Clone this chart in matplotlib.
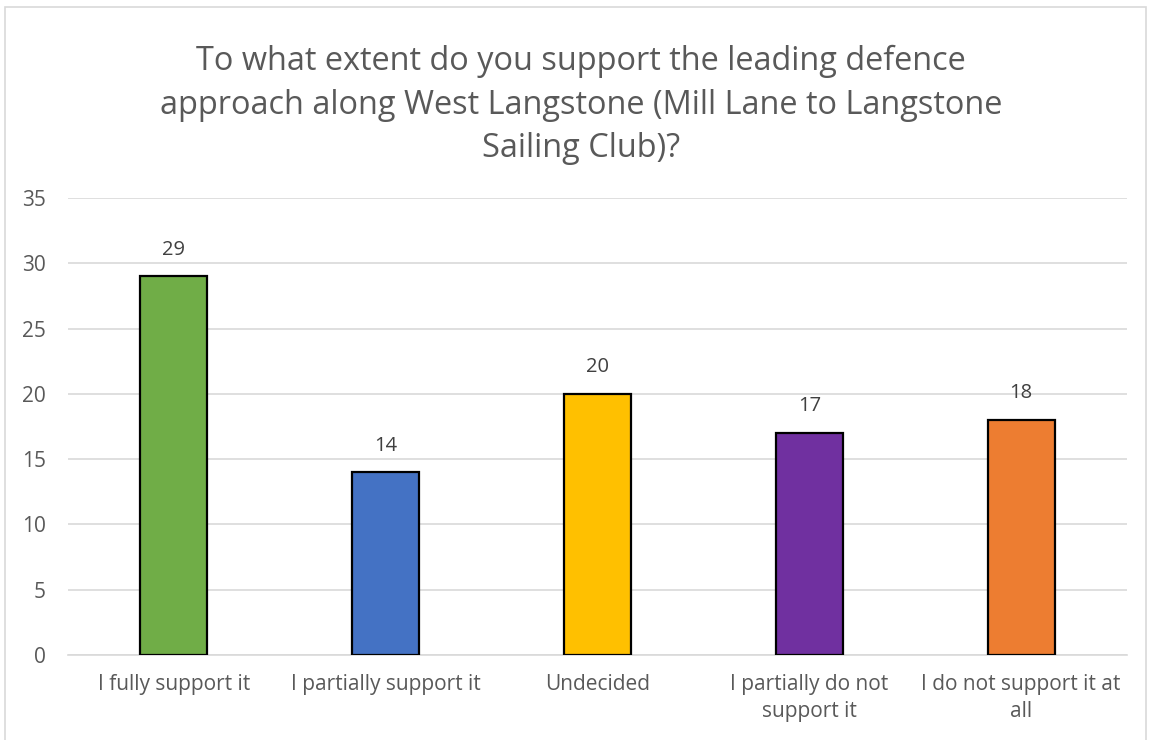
import matplotlib
matplotlib.use("Agg")
import matplotlib.pyplot as plt
from matplotlib.patches import Rectangle

categories = ["I fully support it", "I partially support it", "Undecided",
              "I partially do not\nsupport it", "I do not support it at\nall"]
counts = [29, 14, 20, 17, 18]
colors = ["#70AD47", "#4472C4", "#FFC000", "#7030A0", "#ED7D31"]
yticks = [0, 5, 10, 15, 20, 25, 30, 35]
title = ("To what extent do you support the leading defence\n"
         "approach along West Langstone (Mill Lane to Langstone\n"
         "Sailing Club)?")

plt.rcParams["font.family"] = ["Open Sans", "DejaVu Sans"]

fig = plt.figure(figsize=(11.5, 7.4), dpi=100)
fig.patch.set_facecolor("white")

# chart frame
fig.add_artist(Rectangle((5 / 1150, -0.01), 1141 / 1150, (740 - 7) / 740 + 0.01,
                         transform=fig.transFigure, fill=False,
                         edgecolor="#D9D9D9", linewidth=1.2))

ax = fig.add_axes([68 / 1150, 85 / 740, 1059 / 1150, 457 / 740])
x = list(range(len(categories)))
ax.bar(x, counts, width=0.316, color=colors, edgecolor="black", linewidth=1.6, zorder=3)

for xi, v in zip(x, counts):
    ax.annotate(str(v), (xi, v), xytext=(0, 12), textcoords="offset points",
                ha="center", va="bottom", fontsize=14.5, color="#404040")

ax.set_xlim(-0.5, len(categories) - 0.5)
ax.set_ylim(0, 35)
ax.set_yticks(yticks)
ax.yaxis.grid(True, color="#D9D9D9", linewidth=1.2, zorder=0)
ax.set_axisbelow(True)
for s in ["top", "right", "left"]:
    ax.spines[s].set_visible(False)
ax.spines["bottom"].set_color("#D9D9D9")
ax.spines["bottom"].set_linewidth(1.2)
ax.tick_params(axis="both", length=0, labelsize=15, labelcolor="#595959")
ax.tick_params(axis="y", pad=16)
ax.tick_params(axis="x", pad=14)
ax.set_xticks(x)
ax.set_xticklabels(categories, linespacing=1.35)

fig.text(0.505, 1 - 105 / 740, title, ha="center", va="center", fontsize=23.4,
         color="#595959", linespacing=1.42)

fig.savefig("out.png", dpi=100)
